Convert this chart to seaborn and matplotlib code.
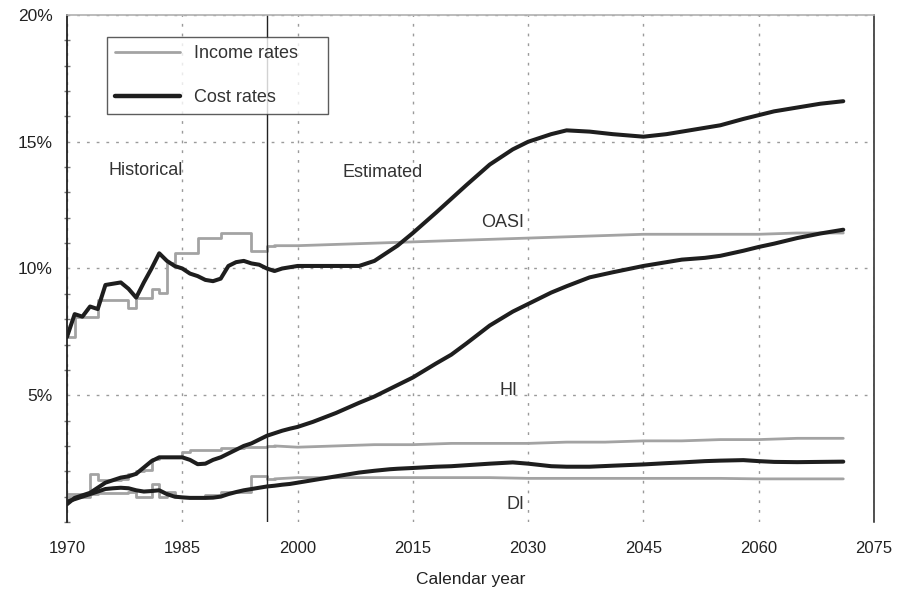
import matplotlib
matplotlib.use("Agg")
import matplotlib.pyplot as plt
from matplotlib.lines import Line2D
from matplotlib.ticker import MultipleLocator, FuncFormatter
import seaborn as sns

sns.set_theme(style="white")
plt.rcParams["font.family"] = ["Liberation Sans", "DejaVu Sans"]

# historical income rates (step values, one per year)
hist_years = list(range(1970, 1998))
oasi_inc_hist = [7.3, 8.1, 8.1, 8.1, 8.75, 8.75, 8.75, 8.75, 8.45, 8.85, 8.85, 9.2, 9.05, 10.2,
                 10.6, 10.6, 10.6, 11.2, 11.2, 11.2, 11.4, 11.4, 11.4, 11.4, 10.7, 10.7, 10.9, 10.9]
hi_inc_hist = [1.0, 1.0, 1.0, 1.9, 1.65, 1.65, 1.65, 1.7, 1.9, 2.0, 2.05, 2.5, 2.55, 2.55,
               2.55, 2.75, 2.85, 2.85, 2.85, 2.85, 2.9, 2.9, 2.9, 2.95, 2.95, 2.95, 3.0, 3.0]
di_inc_hist = [1.1, 1.1, 1.1, 1.1, 1.15, 1.15, 1.15, 1.15, 1.2, 1.0, 1.0, 1.5, 1.0, 1.2,
               1.0, 1.0, 1.0, 1.0, 1.06, 1.06, 1.2, 1.2, 1.2, 1.2, 1.8, 1.8, 1.7, 1.7]

# estimated income rates
proj_years = [1997, 2000, 2005, 2010, 2015, 2020, 2025, 2030, 2035, 2040, 2045, 2050, 2055, 2060, 2065, 2071]
oasi_inc_proj = [10.9, 10.9, 10.95, 11.0, 11.05, 11.1, 11.15, 11.2, 11.25, 11.3, 11.35, 11.35, 11.35, 11.35, 11.4, 11.4]
hi_inc_proj = [3.0, 2.95, 3.0, 3.05, 3.05, 3.1, 3.1, 3.1, 3.15, 3.15, 3.2, 3.2, 3.25, 3.25, 3.3, 3.3]
di_inc_proj = [1.7, 1.75, 1.75, 1.75, 1.75, 1.75, 1.75, 1.72, 1.72, 1.72, 1.72, 1.72, 1.72, 1.7, 1.7, 1.7]

# cost rates
cost_years = list(range(1970, 2001)) + [2002, 2005, 2008, 2010, 2012, 2013, 2015, 2018, 2020, 2022,
                                        2025, 2028, 2030, 2033, 2035, 2038, 2041, 2045, 2048, 2050,
                                        2053, 2055, 2058, 2060, 2062, 2065, 2068, 2071]
oasi_cost = [7.3, 8.2, 8.1, 8.5, 8.4, 9.35, 9.4, 9.45, 9.2, 8.85, 9.45,
             10.0, 10.6, 10.3, 10.1, 10.0, 9.8, 9.7, 9.55, 9.5, 9.6,
             10.1, 10.25, 10.3, 10.2, 10.15, 10.0, 9.9, 10.0, 10.05, 10.1,
             10.1, 10.1, 10.1, 10.3, 10.7, 10.9, 11.4, 12.2, 12.75, 13.3,
             14.1, 14.7, 15.0, 15.3, 15.45, 15.4, 15.3, 15.2, 15.3, 15.4,
             15.55, 15.65, 15.9, 16.05, 16.2, 16.35, 16.5, 16.6]
hi_cost = [0.7, 0.95, 1.05, 1.15, 1.35, 1.55, 1.65, 1.75, 1.8, 1.9, 2.15,
           2.4, 2.55, 2.55, 2.55, 2.55, 2.45, 2.28, 2.3, 2.45, 2.55,
           2.7, 2.85, 3.0, 3.1, 3.25, 3.4, 3.5, 3.6, 3.68, 3.75,
           3.95, 4.3, 4.7, 4.95, 5.25, 5.4, 5.7, 6.25, 6.6, 7.05,
           7.75, 8.3, 8.6, 9.05, 9.3, 9.65, 9.85, 10.1, 10.25, 10.35,
           10.42, 10.5, 10.7, 10.85, 10.98, 11.2, 11.38, 11.53]
di_cost = [0.8, 0.9, 1.0, 1.1, 1.2, 1.3, 1.33, 1.35, 1.33, 1.25, 1.2,
           1.22, 1.25, 1.1, 1.0, 0.97, 0.95, 0.95, 0.95, 0.96, 1.0,
           1.1, 1.18, 1.25, 1.3, 1.35, 1.4, 1.43, 1.47, 1.5, 1.55,
           1.65, 1.8, 1.95, 2.02, 2.08, 2.1, 2.13, 2.18, 2.2, 2.24,
           2.3, 2.35, 2.3, 2.2, 2.18, 2.18, 2.22, 2.27, 2.32, 2.35,
           2.4, 2.42, 2.44, 2.4, 2.37, 2.36, 2.37, 2.38]

last_hist_year = 1996
inc_color = "#a3a3a3"
cost_color = "#1e1e1e"

fig = plt.figure(figsize=(8.98, 5.89), dpi=100)
ax = fig.add_axes([0.0746, 0.1138, 0.8987, 0.8607])

for vals in [oasi_inc_hist, hi_inc_hist, di_inc_hist]:
    sns.lineplot(x=hist_years, y=vals, color=inc_color, lw=2, ax=ax,
                 estimator=None, sort=False, drawstyle="steps-post")
for vals in [oasi_inc_proj, hi_inc_proj, di_inc_proj]:
    sns.lineplot(x=proj_years, y=vals, color=inc_color, lw=2, ax=ax, estimator=None, sort=False)
for vals in [oasi_cost, hi_cost, di_cost]:
    sns.lineplot(x=cost_years, y=vals, color=cost_color, lw=2.9, ax=ax, estimator=None, sort=False)

ax.axvline(last_hist_year, color="#222222", lw=1)

ax.set_xlim(1970, 2075)
ax.set_ylim(0, 20)
ax.set_xticks(range(1970, 2076, 15))
ax.set_yticks([5, 10, 15, 20])
ax.yaxis.set_minor_locator(MultipleLocator(1))
ax.yaxis.set_major_formatter(FuncFormatter(lambda v, p: f"{v:.0f}%"))
ax.grid(True, which="major", color="#9a9a9a", lw=1, linestyle=(0, (2, 5)))
ax.tick_params(axis="x", length=0, pad=14, labelsize=12, labelcolor="#222222")
ax.tick_params(axis="y", which="major", length=0, pad=10.5, labelsize=12.5, labelcolor="#222222")
ax.tick_params(axis="y", which="minor", left=True, length=4, direction="inout", color="#777777", width=1)

ax.spines["bottom"].set_visible(False)
ax.spines["left"].set_color("#222222")
ax.spines["left"].set_linewidth(1.3)
ax.spines["right"].set_color("#222222")
ax.spines["right"].set_linewidth(1.1)
ax.spines["top"].set_color("#b0b0b0")
ax.spines["top"].set_linewidth(1.2)

ax.set_xlabel("Calendar year", fontsize=12.5, color="#222222", labelpad=11)
ax.set_ylabel("")

txt = dict(fontsize=13, color="#333333", ha="center", va="center")
ax.text(1980.2, 13.85, "Historical", **txt)
ax.text(2011.1, 13.8, "Estimated", **txt)
ax.text(2026.7, 11.8, "OASI", **txt)
ax.text(2027.5, 5.2, "HI", **txt)
ax.text(2028.3, 0.67, "DI", **txt)

handles = [Line2D([], [], color=inc_color, lw=2), Line2D([], [], color=cost_color, lw=3.2)]
leg = ax.legend(handles, ["Income rates", "Cost rates"], loc="upper left",
                bbox_to_anchor=(0.0496, 0.5, 0.274, 0.4566), mode="expand",
                fontsize=13, frameon=True, fancybox=False, handlelength=3.6,
                handletextpad=0.75, labelspacing=1.5, borderpad=0.45, borderaxespad=0)
leg.get_frame().set_edgecolor("#333333")
leg.get_frame().set_linewidth(1)
for t in leg.get_texts():
    t.set_color("#333333")

fig.savefig("out.png", dpi=100)
